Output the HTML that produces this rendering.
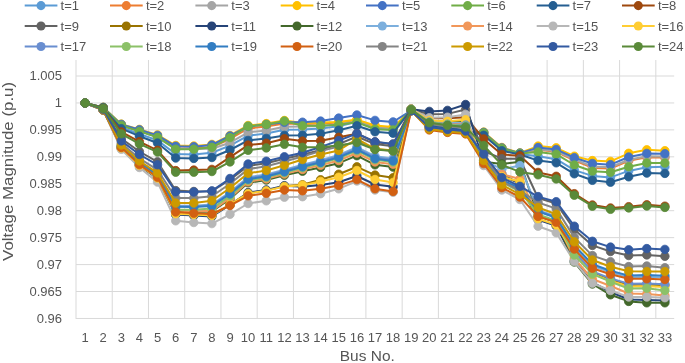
<!DOCTYPE html>
<html><head><meta charset="utf-8"><title>Voltage Magnitude</title>
<style>html,body{margin:0;padding:0;background:#fff}body{width:685px;height:363px;overflow:hidden}</style></head>
<body>
<svg width="685" height="363" viewBox="0 0 685 363" style="display:block">
<rect width="685" height="363" fill="#fff"/>
<path d="M76 76.00H674.2 M76 102.94H674.2 M76 129.88H674.2 M76 156.82H674.2 M76 183.76H674.2 M76 210.70H674.2 M76 237.64H674.2 M76 264.58H674.2 M76 291.52H674.2 M76 318.46H674.2 M76.00 60V318.96 M112.24 60V318.96 M148.48 60V318.96 M184.72 60V318.96 M220.96 60V318.96 M257.20 60V318.96 M293.44 60V318.96 M329.68 60V318.96 M365.92 60V318.96 M402.16 60V318.96 M438.40 60V318.96 M474.64 60V318.96 M510.88 60V318.96 M547.12 60V318.96 M583.36 60V318.96 M619.60 60V318.96 M655.84 60V318.96" stroke="#D9D9D9" stroke-width="1" fill="none"/>
<g font-family="'Liberation Sans',Arial,sans-serif" font-size="13" fill="#555">
<text x="62" y="79.9" text-anchor="end">1.005</text>
<text x="62" y="106.9" text-anchor="end">1</text>
<text x="62" y="133.9" text-anchor="end">0.995</text>
<text x="62" y="161.0" text-anchor="end">0.99</text>
<text x="62" y="188.0" text-anchor="end">0.985</text>
<text x="62" y="215.0" text-anchor="end">0.98</text>
<text x="62" y="242.0" text-anchor="end">0.975</text>
<text x="62" y="269.0" text-anchor="end">0.97</text>
<text x="62" y="296.0" text-anchor="end">0.965</text>
<text x="62" y="323.1" text-anchor="end">0.96</text>
<text x="85.1" y="342.0" text-anchor="middle">1</text>
<text x="103.2" y="342.0" text-anchor="middle">2</text>
<text x="121.3" y="342.0" text-anchor="middle">3</text>
<text x="139.4" y="342.0" text-anchor="middle">4</text>
<text x="157.5" y="342.0" text-anchor="middle">5</text>
<text x="175.7" y="342.0" text-anchor="middle">6</text>
<text x="193.8" y="342.0" text-anchor="middle">7</text>
<text x="211.9" y="342.0" text-anchor="middle">8</text>
<text x="230.0" y="342.0" text-anchor="middle">9</text>
<text x="248.1" y="342.0" text-anchor="middle">10</text>
<text x="266.3" y="342.0" text-anchor="middle">11</text>
<text x="284.4" y="342.0" text-anchor="middle">12</text>
<text x="302.5" y="342.0" text-anchor="middle">13</text>
<text x="320.6" y="342.0" text-anchor="middle">14</text>
<text x="338.7" y="342.0" text-anchor="middle">15</text>
<text x="356.9" y="342.0" text-anchor="middle">16</text>
<text x="375.0" y="342.0" text-anchor="middle">17</text>
<text x="393.1" y="342.0" text-anchor="middle">18</text>
<text x="411.2" y="342.0" text-anchor="middle">19</text>
<text x="429.3" y="342.0" text-anchor="middle">20</text>
<text x="447.5" y="342.0" text-anchor="middle">21</text>
<text x="465.6" y="342.0" text-anchor="middle">22</text>
<text x="483.7" y="342.0" text-anchor="middle">23</text>
<text x="501.8" y="342.0" text-anchor="middle">24</text>
<text x="519.9" y="342.0" text-anchor="middle">25</text>
<text x="538.1" y="342.0" text-anchor="middle">26</text>
<text x="556.2" y="342.0" text-anchor="middle">27</text>
<text x="574.3" y="342.0" text-anchor="middle">28</text>
<text x="592.4" y="342.0" text-anchor="middle">29</text>
<text x="610.5" y="342.0" text-anchor="middle">30</text>
<text x="628.7" y="342.0" text-anchor="middle">31</text>
<text x="646.8" y="342.0" text-anchor="middle">32</text>
<text x="664.9" y="342.0" text-anchor="middle">33</text>
<path d="M24.7 5.6h32.7" stroke="#5B9BD5" stroke-width="2"/><circle cx="41.0" cy="5.6" r="4.55" fill="#5B9BD5"/>
<text x="60.6" y="10.2">t=1</text>
<path d="M110.0 5.6h32.7" stroke="#ED7D31" stroke-width="2"/><circle cx="126.3" cy="5.6" r="4.55" fill="#ED7D31"/>
<text x="145.9" y="10.2">t=2</text>
<path d="M195.4 5.6h32.7" stroke="#A5A5A5" stroke-width="2"/><circle cx="211.7" cy="5.6" r="4.55" fill="#A5A5A5"/>
<text x="231.3" y="10.2">t=3</text>
<path d="M280.7 5.6h32.7" stroke="#FFC000" stroke-width="2"/><circle cx="297.0" cy="5.6" r="4.55" fill="#FFC000"/>
<text x="316.6" y="10.2">t=4</text>
<path d="M366.0 5.6h32.7" stroke="#4472C4" stroke-width="2"/><circle cx="382.3" cy="5.6" r="4.55" fill="#4472C4"/>
<text x="401.9" y="10.2">t=5</text>
<path d="M451.3 5.6h32.7" stroke="#70AD47" stroke-width="2"/><circle cx="467.6" cy="5.6" r="4.55" fill="#70AD47"/>
<text x="487.2" y="10.2">t=6</text>
<path d="M536.7 5.6h32.7" stroke="#255E91" stroke-width="2"/><circle cx="553.0" cy="5.6" r="4.55" fill="#255E91"/>
<text x="572.6" y="10.2">t=7</text>
<path d="M622.0 5.6h32.7" stroke="#9E480E" stroke-width="2"/><circle cx="638.3" cy="5.6" r="4.55" fill="#9E480E"/>
<text x="657.9" y="10.2">t=8</text>
<path d="M24.7 26.0h32.7" stroke="#636363" stroke-width="2"/><circle cx="41.0" cy="26.0" r="4.55" fill="#636363"/>
<text x="60.6" y="30.6">t=9</text>
<path d="M110.0 26.0h32.7" stroke="#997300" stroke-width="2"/><circle cx="126.3" cy="26.0" r="4.55" fill="#997300"/>
<text x="145.9" y="30.6">t=10</text>
<path d="M195.4 26.0h32.7" stroke="#264478" stroke-width="2"/><circle cx="211.7" cy="26.0" r="4.55" fill="#264478"/>
<text x="231.3" y="30.6">t=11</text>
<path d="M280.7 26.0h32.7" stroke="#43682B" stroke-width="2"/><circle cx="297.0" cy="26.0" r="4.55" fill="#43682B"/>
<text x="316.6" y="30.6">t=12</text>
<path d="M366.0 26.0h32.7" stroke="#7CAFDD" stroke-width="2"/><circle cx="382.3" cy="26.0" r="4.55" fill="#7CAFDD"/>
<text x="401.9" y="30.6">t=13</text>
<path d="M451.3 26.0h32.7" stroke="#F1975A" stroke-width="2"/><circle cx="467.6" cy="26.0" r="4.55" fill="#F1975A"/>
<text x="487.2" y="30.6">t=14</text>
<path d="M536.7 26.0h32.7" stroke="#B7B7B7" stroke-width="2"/><circle cx="553.0" cy="26.0" r="4.55" fill="#B7B7B7"/>
<text x="572.6" y="30.6">t=15</text>
<path d="M622.0 26.0h32.7" stroke="#FFCD33" stroke-width="2"/><circle cx="638.3" cy="26.0" r="4.55" fill="#FFCD33"/>
<text x="657.9" y="30.6">t=16</text>
<path d="M24.7 46.5h32.7" stroke="#698ED0" stroke-width="2"/><circle cx="41.0" cy="46.5" r="4.55" fill="#698ED0"/>
<text x="60.6" y="51.1">t=17</text>
<path d="M110.0 46.5h32.7" stroke="#8CC168" stroke-width="2"/><circle cx="126.3" cy="46.5" r="4.55" fill="#8CC168"/>
<text x="145.9" y="51.1">t=18</text>
<path d="M195.4 46.5h32.7" stroke="#327DC2" stroke-width="2"/><circle cx="211.7" cy="46.5" r="4.55" fill="#327DC2"/>
<text x="231.3" y="51.1">t=19</text>
<path d="M280.7 46.5h32.7" stroke="#D26012" stroke-width="2"/><circle cx="297.0" cy="46.5" r="4.55" fill="#D26012"/>
<text x="316.6" y="51.1">t=20</text>
<path d="M366.0 46.5h32.7" stroke="#848484" stroke-width="2"/><circle cx="382.3" cy="46.5" r="4.55" fill="#848484"/>
<text x="401.9" y="51.1">t=21</text>
<path d="M451.3 46.5h32.7" stroke="#CC9A00" stroke-width="2"/><circle cx="467.6" cy="46.5" r="4.55" fill="#CC9A00"/>
<text x="487.2" y="51.1">t=22</text>
<path d="M536.7 46.5h32.7" stroke="#335AA1" stroke-width="2"/><circle cx="553.0" cy="46.5" r="4.55" fill="#335AA1"/>
<text x="572.6" y="51.1">t=23</text>
<path d="M622.0 46.5h32.7" stroke="#5A8A39" stroke-width="2"/><circle cx="638.3" cy="46.5" r="4.55" fill="#5A8A39"/>
<text x="657.9" y="51.1">t=24</text>
</g>
<g font-family="'Liberation Sans',Arial,sans-serif" font-size="15.1" fill="#555">
<text x="367.3" y="361.4" text-anchor="middle" textLength="55" lengthAdjust="spacingAndGlyphs">Bus No.</text>
<text transform="translate(12.9 171.4) rotate(-90)" text-anchor="middle" textLength="179" lengthAdjust="spacingAndGlyphs">Voltage Magnitude (p.u)</text>
</g>
<g fill="#5B9BD5" stroke="#5B9BD5"><polyline points="85.1,103.0 103.2,107.7 121.3,127.2 139.4,134.0 157.5,140.4 175.7,154.0 193.8,154.4 211.9,152.7 230.0,145.6 248.1,135.6 266.3,133.4 284.4,129.8 302.5,129.5 320.6,128.5 338.7,126.2 356.9,121.8 375.0,128.2 393.1,129.2 411.2,109.6 429.3,125.5 447.5,128.5 465.6,130.5 483.7,134.3 501.8,149.5 519.9,154.0 538.1,156.2 556.2,159.2 574.3,170.1 592.4,175.9 610.5,177.4 628.7,170.9 646.8,167.3 664.9,166.8" fill="none" stroke-width="2" stroke-linejoin="round" stroke-linecap="round"/>
<circle cx="85.1" cy="103.0" r="4.25" stroke-width="0.8"/><circle cx="103.2" cy="107.7" r="4.25" stroke-width="0.8"/><circle cx="121.3" cy="127.2" r="4.25" stroke-width="0.8"/><circle cx="139.4" cy="134.0" r="4.25" stroke-width="0.8"/><circle cx="157.5" cy="140.4" r="4.25" stroke-width="0.8"/><circle cx="175.7" cy="154.0" r="4.25" stroke-width="0.8"/><circle cx="193.8" cy="154.4" r="4.25" stroke-width="0.8"/><circle cx="211.9" cy="152.7" r="4.25" stroke-width="0.8"/><circle cx="230.0" cy="145.6" r="4.25" stroke-width="0.8"/><circle cx="248.1" cy="135.6" r="4.25" stroke-width="0.8"/><circle cx="266.3" cy="133.4" r="4.25" stroke-width="0.8"/><circle cx="284.4" cy="129.8" r="4.25" stroke-width="0.8"/><circle cx="302.5" cy="129.5" r="4.25" stroke-width="0.8"/><circle cx="320.6" cy="128.5" r="4.25" stroke-width="0.8"/><circle cx="338.7" cy="126.2" r="4.25" stroke-width="0.8"/><circle cx="356.9" cy="121.8" r="4.25" stroke-width="0.8"/><circle cx="375.0" cy="128.2" r="4.25" stroke-width="0.8"/><circle cx="393.1" cy="129.2" r="4.25" stroke-width="0.8"/><circle cx="411.2" cy="109.6" r="4.25" stroke-width="0.8"/><circle cx="429.3" cy="125.5" r="4.25" stroke-width="0.8"/><circle cx="447.5" cy="128.5" r="4.25" stroke-width="0.8"/><circle cx="465.6" cy="130.5" r="4.25" stroke-width="0.8"/><circle cx="483.7" cy="134.3" r="4.25" stroke-width="0.8"/><circle cx="501.8" cy="149.5" r="4.25" stroke-width="0.8"/><circle cx="519.9" cy="154.0" r="4.25" stroke-width="0.8"/><circle cx="538.1" cy="156.2" r="4.25" stroke-width="0.8"/><circle cx="556.2" cy="159.2" r="4.25" stroke-width="0.8"/><circle cx="574.3" cy="170.1" r="4.25" stroke-width="0.8"/><circle cx="592.4" cy="175.9" r="4.25" stroke-width="0.8"/><circle cx="610.5" cy="177.4" r="4.25" stroke-width="0.8"/><circle cx="628.7" cy="170.9" r="4.25" stroke-width="0.8"/><circle cx="646.8" cy="167.3" r="4.25" stroke-width="0.8"/><circle cx="664.9" cy="166.8" r="4.25" stroke-width="0.8"/>
</g>
<g fill="#ED7D31" stroke="#ED7D31"><polyline points="85.1,103.0 103.2,107.5 121.3,125.1 139.4,130.9 157.5,136.7 175.7,148.3 193.8,148.5 211.9,147.0 230.0,139.0 248.1,128.5 266.3,126.5 284.4,123.5 302.5,124.0 320.6,123.5 338.7,122.6 356.9,120.2 375.0,126.2 393.1,127.7 411.2,109.6 429.3,127.5 447.5,130.5 465.6,132.3 483.7,132.7 501.8,148.3 519.9,153.4 538.1,149.8 556.2,151.8 574.3,160.4 592.4,167.9 610.5,168.6 628.7,160.8 646.8,157.3 664.9,157.6" fill="none" stroke-width="2" stroke-linejoin="round" stroke-linecap="round"/>
<circle cx="85.1" cy="103.0" r="4.25" stroke-width="0.8"/><circle cx="103.2" cy="107.5" r="4.25" stroke-width="0.8"/><circle cx="121.3" cy="125.1" r="4.25" stroke-width="0.8"/><circle cx="139.4" cy="130.9" r="4.25" stroke-width="0.8"/><circle cx="157.5" cy="136.7" r="4.25" stroke-width="0.8"/><circle cx="175.7" cy="148.3" r="4.25" stroke-width="0.8"/><circle cx="193.8" cy="148.5" r="4.25" stroke-width="0.8"/><circle cx="211.9" cy="147.0" r="4.25" stroke-width="0.8"/><circle cx="230.0" cy="139.0" r="4.25" stroke-width="0.8"/><circle cx="248.1" cy="128.5" r="4.25" stroke-width="0.8"/><circle cx="266.3" cy="126.5" r="4.25" stroke-width="0.8"/><circle cx="284.4" cy="123.5" r="4.25" stroke-width="0.8"/><circle cx="302.5" cy="124.0" r="4.25" stroke-width="0.8"/><circle cx="320.6" cy="123.5" r="4.25" stroke-width="0.8"/><circle cx="338.7" cy="122.6" r="4.25" stroke-width="0.8"/><circle cx="356.9" cy="120.2" r="4.25" stroke-width="0.8"/><circle cx="375.0" cy="126.2" r="4.25" stroke-width="0.8"/><circle cx="393.1" cy="127.7" r="4.25" stroke-width="0.8"/><circle cx="411.2" cy="109.6" r="4.25" stroke-width="0.8"/><circle cx="429.3" cy="127.5" r="4.25" stroke-width="0.8"/><circle cx="447.5" cy="130.5" r="4.25" stroke-width="0.8"/><circle cx="465.6" cy="132.3" r="4.25" stroke-width="0.8"/><circle cx="483.7" cy="132.7" r="4.25" stroke-width="0.8"/><circle cx="501.8" cy="148.3" r="4.25" stroke-width="0.8"/><circle cx="519.9" cy="153.4" r="4.25" stroke-width="0.8"/><circle cx="538.1" cy="149.8" r="4.25" stroke-width="0.8"/><circle cx="556.2" cy="151.8" r="4.25" stroke-width="0.8"/><circle cx="574.3" cy="160.4" r="4.25" stroke-width="0.8"/><circle cx="592.4" cy="167.9" r="4.25" stroke-width="0.8"/><circle cx="610.5" cy="168.6" r="4.25" stroke-width="0.8"/><circle cx="628.7" cy="160.8" r="4.25" stroke-width="0.8"/><circle cx="646.8" cy="157.3" r="4.25" stroke-width="0.8"/><circle cx="664.9" cy="157.6" r="4.25" stroke-width="0.8"/>
</g>
<g fill="#A5A5A5" stroke="#A5A5A5"><polyline points="85.1,103.0 103.2,107.5 121.3,125.3 139.4,131.1 157.5,136.9 175.7,148.7 193.8,149.0 211.9,148.8 230.0,142.7 248.1,132.3 266.3,130.4 284.4,126.8 302.5,126.5 320.6,126.0 338.7,124.2 356.9,121.2 375.0,127.3 393.1,128.6 411.2,109.6 429.3,127.8 447.5,130.8 465.6,132.6 483.7,132.7 501.8,148.2 519.9,153.3 538.1,149.3 556.2,151.1 574.3,159.4 592.4,166.5 610.5,167.2 628.7,159.8 646.8,156.3 664.9,156.6" fill="none" stroke-width="2" stroke-linejoin="round" stroke-linecap="round"/>
<circle cx="85.1" cy="103.0" r="4.25" stroke-width="0.8"/><circle cx="103.2" cy="107.5" r="4.25" stroke-width="0.8"/><circle cx="121.3" cy="125.3" r="4.25" stroke-width="0.8"/><circle cx="139.4" cy="131.1" r="4.25" stroke-width="0.8"/><circle cx="157.5" cy="136.9" r="4.25" stroke-width="0.8"/><circle cx="175.7" cy="148.7" r="4.25" stroke-width="0.8"/><circle cx="193.8" cy="149.0" r="4.25" stroke-width="0.8"/><circle cx="211.9" cy="148.8" r="4.25" stroke-width="0.8"/><circle cx="230.0" cy="142.7" r="4.25" stroke-width="0.8"/><circle cx="248.1" cy="132.3" r="4.25" stroke-width="0.8"/><circle cx="266.3" cy="130.4" r="4.25" stroke-width="0.8"/><circle cx="284.4" cy="126.8" r="4.25" stroke-width="0.8"/><circle cx="302.5" cy="126.5" r="4.25" stroke-width="0.8"/><circle cx="320.6" cy="126.0" r="4.25" stroke-width="0.8"/><circle cx="338.7" cy="124.2" r="4.25" stroke-width="0.8"/><circle cx="356.9" cy="121.2" r="4.25" stroke-width="0.8"/><circle cx="375.0" cy="127.3" r="4.25" stroke-width="0.8"/><circle cx="393.1" cy="128.6" r="4.25" stroke-width="0.8"/><circle cx="411.2" cy="109.6" r="4.25" stroke-width="0.8"/><circle cx="429.3" cy="127.8" r="4.25" stroke-width="0.8"/><circle cx="447.5" cy="130.8" r="4.25" stroke-width="0.8"/><circle cx="465.6" cy="132.6" r="4.25" stroke-width="0.8"/><circle cx="483.7" cy="132.7" r="4.25" stroke-width="0.8"/><circle cx="501.8" cy="148.2" r="4.25" stroke-width="0.8"/><circle cx="519.9" cy="153.3" r="4.25" stroke-width="0.8"/><circle cx="538.1" cy="149.3" r="4.25" stroke-width="0.8"/><circle cx="556.2" cy="151.1" r="4.25" stroke-width="0.8"/><circle cx="574.3" cy="159.4" r="4.25" stroke-width="0.8"/><circle cx="592.4" cy="166.5" r="4.25" stroke-width="0.8"/><circle cx="610.5" cy="167.2" r="4.25" stroke-width="0.8"/><circle cx="628.7" cy="159.8" r="4.25" stroke-width="0.8"/><circle cx="646.8" cy="156.3" r="4.25" stroke-width="0.8"/><circle cx="664.9" cy="156.6" r="4.25" stroke-width="0.8"/>
</g>
<g fill="#FFC000" stroke="#FFC000"><polyline points="85.1,103.0 103.2,107.4 121.3,124.1 139.4,129.4 157.5,134.9 175.7,145.5 193.8,146.0 211.9,144.4 230.0,135.5 248.1,125.5 266.3,123.6 284.4,120.5 302.5,123.0 320.6,122.5 338.7,121.9 356.9,119.6 375.0,125.5 393.1,127.0 411.2,110.6 429.3,127.6 447.5,130.6 465.6,132.4 483.7,132.1 501.8,147.5 519.9,152.9 538.1,146.1 556.2,147.8 574.3,156.2 592.4,160.6 610.5,161.4 628.7,153.3 646.8,149.8 664.9,150.7" fill="none" stroke-width="2" stroke-linejoin="round" stroke-linecap="round"/>
<circle cx="85.1" cy="103.0" r="4.25" stroke-width="0.8"/><circle cx="103.2" cy="107.4" r="4.25" stroke-width="0.8"/><circle cx="121.3" cy="124.1" r="4.25" stroke-width="0.8"/><circle cx="139.4" cy="129.4" r="4.25" stroke-width="0.8"/><circle cx="157.5" cy="134.9" r="4.25" stroke-width="0.8"/><circle cx="175.7" cy="145.5" r="4.25" stroke-width="0.8"/><circle cx="193.8" cy="146.0" r="4.25" stroke-width="0.8"/><circle cx="211.9" cy="144.4" r="4.25" stroke-width="0.8"/><circle cx="230.0" cy="135.5" r="4.25" stroke-width="0.8"/><circle cx="248.1" cy="125.5" r="4.25" stroke-width="0.8"/><circle cx="266.3" cy="123.6" r="4.25" stroke-width="0.8"/><circle cx="284.4" cy="120.5" r="4.25" stroke-width="0.8"/><circle cx="302.5" cy="123.0" r="4.25" stroke-width="0.8"/><circle cx="320.6" cy="122.5" r="4.25" stroke-width="0.8"/><circle cx="338.7" cy="121.9" r="4.25" stroke-width="0.8"/><circle cx="356.9" cy="119.6" r="4.25" stroke-width="0.8"/><circle cx="375.0" cy="125.5" r="4.25" stroke-width="0.8"/><circle cx="393.1" cy="127.0" r="4.25" stroke-width="0.8"/><circle cx="411.2" cy="110.6" r="4.25" stroke-width="0.8"/><circle cx="429.3" cy="127.6" r="4.25" stroke-width="0.8"/><circle cx="447.5" cy="130.6" r="4.25" stroke-width="0.8"/><circle cx="465.6" cy="132.4" r="4.25" stroke-width="0.8"/><circle cx="483.7" cy="132.1" r="4.25" stroke-width="0.8"/><circle cx="501.8" cy="147.5" r="4.25" stroke-width="0.8"/><circle cx="519.9" cy="152.9" r="4.25" stroke-width="0.8"/><circle cx="538.1" cy="146.1" r="4.25" stroke-width="0.8"/><circle cx="556.2" cy="147.8" r="4.25" stroke-width="0.8"/><circle cx="574.3" cy="156.2" r="4.25" stroke-width="0.8"/><circle cx="592.4" cy="160.6" r="4.25" stroke-width="0.8"/><circle cx="610.5" cy="161.4" r="4.25" stroke-width="0.8"/><circle cx="628.7" cy="153.3" r="4.25" stroke-width="0.8"/><circle cx="646.8" cy="149.8" r="4.25" stroke-width="0.8"/><circle cx="664.9" cy="150.7" r="4.25" stroke-width="0.8"/>
</g>
<g fill="#4472C4" stroke="#4472C4"><polyline points="85.1,103.0 103.2,107.4 121.3,124.4 139.4,129.8 157.5,135.4 175.7,146.3 193.8,146.7 211.9,145.0 230.0,136.0 248.1,126.5 266.3,124.5 284.4,122.3 302.5,122.2 320.6,121.1 338.7,118.1 356.9,115.0 375.0,120.4 393.1,121.9 411.2,110.5 429.3,127.0 447.5,130.0 465.6,131.8 483.7,132.4 501.8,147.9 519.9,153.1 538.1,147.6 556.2,149.5 574.3,157.7 592.4,163.5 610.5,164.7 628.7,157.0 646.8,153.4 664.9,153.7" fill="none" stroke-width="2" stroke-linejoin="round" stroke-linecap="round"/>
<circle cx="85.1" cy="103.0" r="4.25" stroke-width="0.8"/><circle cx="103.2" cy="107.4" r="4.25" stroke-width="0.8"/><circle cx="121.3" cy="124.4" r="4.25" stroke-width="0.8"/><circle cx="139.4" cy="129.8" r="4.25" stroke-width="0.8"/><circle cx="157.5" cy="135.4" r="4.25" stroke-width="0.8"/><circle cx="175.7" cy="146.3" r="4.25" stroke-width="0.8"/><circle cx="193.8" cy="146.7" r="4.25" stroke-width="0.8"/><circle cx="211.9" cy="145.0" r="4.25" stroke-width="0.8"/><circle cx="230.0" cy="136.0" r="4.25" stroke-width="0.8"/><circle cx="248.1" cy="126.5" r="4.25" stroke-width="0.8"/><circle cx="266.3" cy="124.5" r="4.25" stroke-width="0.8"/><circle cx="284.4" cy="122.3" r="4.25" stroke-width="0.8"/><circle cx="302.5" cy="122.2" r="4.25" stroke-width="0.8"/><circle cx="320.6" cy="121.1" r="4.25" stroke-width="0.8"/><circle cx="338.7" cy="118.1" r="4.25" stroke-width="0.8"/><circle cx="356.9" cy="115.0" r="4.25" stroke-width="0.8"/><circle cx="375.0" cy="120.4" r="4.25" stroke-width="0.8"/><circle cx="393.1" cy="121.9" r="4.25" stroke-width="0.8"/><circle cx="411.2" cy="110.5" r="4.25" stroke-width="0.8"/><circle cx="429.3" cy="127.0" r="4.25" stroke-width="0.8"/><circle cx="447.5" cy="130.0" r="4.25" stroke-width="0.8"/><circle cx="465.6" cy="131.8" r="4.25" stroke-width="0.8"/><circle cx="483.7" cy="132.4" r="4.25" stroke-width="0.8"/><circle cx="501.8" cy="147.9" r="4.25" stroke-width="0.8"/><circle cx="519.9" cy="153.1" r="4.25" stroke-width="0.8"/><circle cx="538.1" cy="147.6" r="4.25" stroke-width="0.8"/><circle cx="556.2" cy="149.5" r="4.25" stroke-width="0.8"/><circle cx="574.3" cy="157.7" r="4.25" stroke-width="0.8"/><circle cx="592.4" cy="163.5" r="4.25" stroke-width="0.8"/><circle cx="610.5" cy="164.7" r="4.25" stroke-width="0.8"/><circle cx="628.7" cy="157.0" r="4.25" stroke-width="0.8"/><circle cx="646.8" cy="153.4" r="4.25" stroke-width="0.8"/><circle cx="664.9" cy="153.7" r="4.25" stroke-width="0.8"/>
</g>
<g fill="#70AD47" stroke="#70AD47"><polyline points="85.1,103.0 103.2,107.5 121.3,125.5 139.4,131.4 157.5,137.3 175.7,149.2 193.8,149.2 211.9,147.3 230.0,137.6 248.1,126.2 266.3,124.5 284.4,121.0 302.5,125.8 320.6,125.8 338.7,124.7 356.9,122.3 375.0,129.2 393.1,129.9 411.2,109.6 429.3,126.5 447.5,129.5 465.6,131.5 483.7,133.0 501.8,148.5 519.9,153.5 538.1,152.0 556.2,154.2 574.3,165.0 592.4,171.2 610.5,172.3 628.7,166.8 646.8,162.9 664.9,163.1" fill="none" stroke-width="2" stroke-linejoin="round" stroke-linecap="round"/>
<circle cx="85.1" cy="103.0" r="4.25" stroke-width="0.8"/><circle cx="103.2" cy="107.5" r="4.25" stroke-width="0.8"/><circle cx="121.3" cy="125.5" r="4.25" stroke-width="0.8"/><circle cx="139.4" cy="131.4" r="4.25" stroke-width="0.8"/><circle cx="157.5" cy="137.3" r="4.25" stroke-width="0.8"/><circle cx="175.7" cy="149.2" r="4.25" stroke-width="0.8"/><circle cx="193.8" cy="149.2" r="4.25" stroke-width="0.8"/><circle cx="211.9" cy="147.3" r="4.25" stroke-width="0.8"/><circle cx="230.0" cy="137.6" r="4.25" stroke-width="0.8"/><circle cx="248.1" cy="126.2" r="4.25" stroke-width="0.8"/><circle cx="266.3" cy="124.5" r="4.25" stroke-width="0.8"/><circle cx="284.4" cy="121.0" r="4.25" stroke-width="0.8"/><circle cx="302.5" cy="125.8" r="4.25" stroke-width="0.8"/><circle cx="320.6" cy="125.8" r="4.25" stroke-width="0.8"/><circle cx="338.7" cy="124.7" r="4.25" stroke-width="0.8"/><circle cx="356.9" cy="122.3" r="4.25" stroke-width="0.8"/><circle cx="375.0" cy="129.2" r="4.25" stroke-width="0.8"/><circle cx="393.1" cy="129.9" r="4.25" stroke-width="0.8"/><circle cx="411.2" cy="109.6" r="4.25" stroke-width="0.8"/><circle cx="429.3" cy="126.5" r="4.25" stroke-width="0.8"/><circle cx="447.5" cy="129.5" r="4.25" stroke-width="0.8"/><circle cx="465.6" cy="131.5" r="4.25" stroke-width="0.8"/><circle cx="483.7" cy="133.0" r="4.25" stroke-width="0.8"/><circle cx="501.8" cy="148.5" r="4.25" stroke-width="0.8"/><circle cx="519.9" cy="153.5" r="4.25" stroke-width="0.8"/><circle cx="538.1" cy="152.0" r="4.25" stroke-width="0.8"/><circle cx="556.2" cy="154.2" r="4.25" stroke-width="0.8"/><circle cx="574.3" cy="165.0" r="4.25" stroke-width="0.8"/><circle cx="592.4" cy="171.2" r="4.25" stroke-width="0.8"/><circle cx="610.5" cy="172.3" r="4.25" stroke-width="0.8"/><circle cx="628.7" cy="166.8" r="4.25" stroke-width="0.8"/><circle cx="646.8" cy="162.9" r="4.25" stroke-width="0.8"/><circle cx="664.9" cy="163.1" r="4.25" stroke-width="0.8"/>
</g>
<g fill="#255E91" stroke="#255E91"><polyline points="85.1,103.0 103.2,107.8 121.3,128.7 139.4,136.2 157.5,143.0 175.7,158.0 193.8,158.4 211.9,157.5 230.0,150.0 248.1,140.4 266.3,138.4 284.4,135.4 302.5,135.3 320.6,133.7 338.7,130.2 356.9,125.8 375.0,131.8 393.1,133.2 411.2,109.6 429.3,125.0 447.5,128.0 465.6,130.0 483.7,135.3 501.8,150.7 519.9,154.5 538.1,160.6 556.2,162.8 574.3,173.8 592.4,180.3 610.5,182.2 628.7,176.8 646.8,173.1 664.9,173.4" fill="none" stroke-width="2" stroke-linejoin="round" stroke-linecap="round"/>
<circle cx="85.1" cy="103.0" r="4.25" stroke-width="0.8"/><circle cx="103.2" cy="107.8" r="4.25" stroke-width="0.8"/><circle cx="121.3" cy="128.7" r="4.25" stroke-width="0.8"/><circle cx="139.4" cy="136.2" r="4.25" stroke-width="0.8"/><circle cx="157.5" cy="143.0" r="4.25" stroke-width="0.8"/><circle cx="175.7" cy="158.0" r="4.25" stroke-width="0.8"/><circle cx="193.8" cy="158.4" r="4.25" stroke-width="0.8"/><circle cx="211.9" cy="157.5" r="4.25" stroke-width="0.8"/><circle cx="230.0" cy="150.0" r="4.25" stroke-width="0.8"/><circle cx="248.1" cy="140.4" r="4.25" stroke-width="0.8"/><circle cx="266.3" cy="138.4" r="4.25" stroke-width="0.8"/><circle cx="284.4" cy="135.4" r="4.25" stroke-width="0.8"/><circle cx="302.5" cy="135.3" r="4.25" stroke-width="0.8"/><circle cx="320.6" cy="133.7" r="4.25" stroke-width="0.8"/><circle cx="338.7" cy="130.2" r="4.25" stroke-width="0.8"/><circle cx="356.9" cy="125.8" r="4.25" stroke-width="0.8"/><circle cx="375.0" cy="131.8" r="4.25" stroke-width="0.8"/><circle cx="393.1" cy="133.2" r="4.25" stroke-width="0.8"/><circle cx="411.2" cy="109.6" r="4.25" stroke-width="0.8"/><circle cx="429.3" cy="125.0" r="4.25" stroke-width="0.8"/><circle cx="447.5" cy="128.0" r="4.25" stroke-width="0.8"/><circle cx="465.6" cy="130.0" r="4.25" stroke-width="0.8"/><circle cx="483.7" cy="135.3" r="4.25" stroke-width="0.8"/><circle cx="501.8" cy="150.7" r="4.25" stroke-width="0.8"/><circle cx="519.9" cy="154.5" r="4.25" stroke-width="0.8"/><circle cx="538.1" cy="160.6" r="4.25" stroke-width="0.8"/><circle cx="556.2" cy="162.8" r="4.25" stroke-width="0.8"/><circle cx="574.3" cy="173.8" r="4.25" stroke-width="0.8"/><circle cx="592.4" cy="180.3" r="4.25" stroke-width="0.8"/><circle cx="610.5" cy="182.2" r="4.25" stroke-width="0.8"/><circle cx="628.7" cy="176.8" r="4.25" stroke-width="0.8"/><circle cx="646.8" cy="173.1" r="4.25" stroke-width="0.8"/><circle cx="664.9" cy="173.4" r="4.25" stroke-width="0.8"/>
</g>
<g fill="#9E480E" stroke="#9E480E"><polyline points="85.1,103.0 103.2,108.3 121.3,131.9 139.4,141.7 157.5,150.3 175.7,170.6 193.8,170.1 211.9,169.4 230.0,157.1 248.1,145.1 266.3,143.2 284.4,138.7 302.5,141.1 320.6,140.7 338.7,137.3 356.9,133.7 375.0,142.0 393.1,144.2 411.2,109.2 429.3,118.2 447.5,118.3 465.6,117.2 483.7,138.9 501.8,154.4 519.9,155.8 538.1,172.4 556.2,176.3 574.3,193.7 592.4,205.0 610.5,208.0 628.7,206.7 646.8,204.8 664.9,206.2" fill="none" stroke-width="2" stroke-linejoin="round" stroke-linecap="round"/>
<circle cx="85.1" cy="103.0" r="4.25" stroke-width="0.8"/><circle cx="103.2" cy="108.3" r="4.25" stroke-width="0.8"/><circle cx="121.3" cy="131.9" r="4.25" stroke-width="0.8"/><circle cx="139.4" cy="141.7" r="4.25" stroke-width="0.8"/><circle cx="157.5" cy="150.3" r="4.25" stroke-width="0.8"/><circle cx="175.7" cy="170.6" r="4.25" stroke-width="0.8"/><circle cx="193.8" cy="170.1" r="4.25" stroke-width="0.8"/><circle cx="211.9" cy="169.4" r="4.25" stroke-width="0.8"/><circle cx="230.0" cy="157.1" r="4.25" stroke-width="0.8"/><circle cx="248.1" cy="145.1" r="4.25" stroke-width="0.8"/><circle cx="266.3" cy="143.2" r="4.25" stroke-width="0.8"/><circle cx="284.4" cy="138.7" r="4.25" stroke-width="0.8"/><circle cx="302.5" cy="141.1" r="4.25" stroke-width="0.8"/><circle cx="320.6" cy="140.7" r="4.25" stroke-width="0.8"/><circle cx="338.7" cy="137.3" r="4.25" stroke-width="0.8"/><circle cx="356.9" cy="133.7" r="4.25" stroke-width="0.8"/><circle cx="375.0" cy="142.0" r="4.25" stroke-width="0.8"/><circle cx="393.1" cy="144.2" r="4.25" stroke-width="0.8"/><circle cx="411.2" cy="109.2" r="4.25" stroke-width="0.8"/><circle cx="429.3" cy="118.2" r="4.25" stroke-width="0.8"/><circle cx="447.5" cy="118.3" r="4.25" stroke-width="0.8"/><circle cx="465.6" cy="117.2" r="4.25" stroke-width="0.8"/><circle cx="483.7" cy="138.9" r="4.25" stroke-width="0.8"/><circle cx="501.8" cy="154.4" r="4.25" stroke-width="0.8"/><circle cx="519.9" cy="155.8" r="4.25" stroke-width="0.8"/><circle cx="538.1" cy="172.4" r="4.25" stroke-width="0.8"/><circle cx="556.2" cy="176.3" r="4.25" stroke-width="0.8"/><circle cx="574.3" cy="193.7" r="4.25" stroke-width="0.8"/><circle cx="592.4" cy="205.0" r="4.25" stroke-width="0.8"/><circle cx="610.5" cy="208.0" r="4.25" stroke-width="0.8"/><circle cx="628.7" cy="206.7" r="4.25" stroke-width="0.8"/><circle cx="646.8" cy="204.8" r="4.25" stroke-width="0.8"/><circle cx="664.9" cy="206.2" r="4.25" stroke-width="0.8"/>
</g>
<g fill="#636363" stroke="#636363"><polyline points="85.1,103.0 103.2,109.1 121.3,138.5 139.4,151.5 157.5,161.8 175.7,190.6 193.8,191.5 211.9,191.2 230.0,179.7 248.1,166.0 266.3,163.2 284.4,158.8 302.5,154.8 320.6,150.0 338.7,144.1 356.9,136.5 375.0,144.1 393.1,146.2 411.2,109.2 429.3,114.3 447.5,113.9 465.6,109.5 483.7,151.0 501.8,158.7 519.9,158.8 538.1,198.0 556.2,203.5 574.3,229.5 592.4,245.4 610.5,251.5 628.7,255.5 646.8,254.9 664.9,256.3" fill="none" stroke-width="2" stroke-linejoin="round" stroke-linecap="round"/>
<circle cx="85.1" cy="103.0" r="4.25" stroke-width="0.8"/><circle cx="103.2" cy="109.1" r="4.25" stroke-width="0.8"/><circle cx="121.3" cy="138.5" r="4.25" stroke-width="0.8"/><circle cx="139.4" cy="151.5" r="4.25" stroke-width="0.8"/><circle cx="157.5" cy="161.8" r="4.25" stroke-width="0.8"/><circle cx="175.7" cy="190.6" r="4.25" stroke-width="0.8"/><circle cx="193.8" cy="191.5" r="4.25" stroke-width="0.8"/><circle cx="211.9" cy="191.2" r="4.25" stroke-width="0.8"/><circle cx="230.0" cy="179.7" r="4.25" stroke-width="0.8"/><circle cx="248.1" cy="166.0" r="4.25" stroke-width="0.8"/><circle cx="266.3" cy="163.2" r="4.25" stroke-width="0.8"/><circle cx="284.4" cy="158.8" r="4.25" stroke-width="0.8"/><circle cx="302.5" cy="154.8" r="4.25" stroke-width="0.8"/><circle cx="320.6" cy="150.0" r="4.25" stroke-width="0.8"/><circle cx="338.7" cy="144.1" r="4.25" stroke-width="0.8"/><circle cx="356.9" cy="136.5" r="4.25" stroke-width="0.8"/><circle cx="375.0" cy="144.1" r="4.25" stroke-width="0.8"/><circle cx="393.1" cy="146.2" r="4.25" stroke-width="0.8"/><circle cx="411.2" cy="109.2" r="4.25" stroke-width="0.8"/><circle cx="429.3" cy="114.3" r="4.25" stroke-width="0.8"/><circle cx="447.5" cy="113.9" r="4.25" stroke-width="0.8"/><circle cx="465.6" cy="109.5" r="4.25" stroke-width="0.8"/><circle cx="483.7" cy="151.0" r="4.25" stroke-width="0.8"/><circle cx="501.8" cy="158.7" r="4.25" stroke-width="0.8"/><circle cx="519.9" cy="158.8" r="4.25" stroke-width="0.8"/><circle cx="538.1" cy="198.0" r="4.25" stroke-width="0.8"/><circle cx="556.2" cy="203.5" r="4.25" stroke-width="0.8"/><circle cx="574.3" cy="229.5" r="4.25" stroke-width="0.8"/><circle cx="592.4" cy="245.4" r="4.25" stroke-width="0.8"/><circle cx="610.5" cy="251.5" r="4.25" stroke-width="0.8"/><circle cx="628.7" cy="255.5" r="4.25" stroke-width="0.8"/><circle cx="646.8" cy="254.9" r="4.25" stroke-width="0.8"/><circle cx="664.9" cy="256.3" r="4.25" stroke-width="0.8"/>
</g>
<g fill="#997300" stroke="#997300"><polyline points="85.1,103.0 103.2,109.9 121.3,148.0 139.4,165.4 157.5,178.2 175.7,214.1 193.8,214.9 211.9,215.5 230.0,204.5 248.1,193.2 266.3,190.5 284.4,186.1 302.5,184.8 320.6,179.8 338.7,174.2 356.9,166.8 375.0,175.1 393.1,177.7 411.2,109.6 429.3,120.8 447.5,122.0 465.6,121.0 483.7,162.4 501.8,176.0 519.9,183.0 538.1,219.1 556.2,225.3 574.3,252.4 592.4,272.4 610.5,279.4 628.7,284.9 646.8,284.6 664.9,285.3" fill="none" stroke-width="2" stroke-linejoin="round" stroke-linecap="round"/>
<circle cx="85.1" cy="103.0" r="4.25" stroke-width="0.8"/><circle cx="103.2" cy="109.9" r="4.25" stroke-width="0.8"/><circle cx="121.3" cy="148.0" r="4.25" stroke-width="0.8"/><circle cx="139.4" cy="165.4" r="4.25" stroke-width="0.8"/><circle cx="157.5" cy="178.2" r="4.25" stroke-width="0.8"/><circle cx="175.7" cy="214.1" r="4.25" stroke-width="0.8"/><circle cx="193.8" cy="214.9" r="4.25" stroke-width="0.8"/><circle cx="211.9" cy="215.5" r="4.25" stroke-width="0.8"/><circle cx="230.0" cy="204.5" r="4.25" stroke-width="0.8"/><circle cx="248.1" cy="193.2" r="4.25" stroke-width="0.8"/><circle cx="266.3" cy="190.5" r="4.25" stroke-width="0.8"/><circle cx="284.4" cy="186.1" r="4.25" stroke-width="0.8"/><circle cx="302.5" cy="184.8" r="4.25" stroke-width="0.8"/><circle cx="320.6" cy="179.8" r="4.25" stroke-width="0.8"/><circle cx="338.7" cy="174.2" r="4.25" stroke-width="0.8"/><circle cx="356.9" cy="166.8" r="4.25" stroke-width="0.8"/><circle cx="375.0" cy="175.1" r="4.25" stroke-width="0.8"/><circle cx="393.1" cy="177.7" r="4.25" stroke-width="0.8"/><circle cx="411.2" cy="109.6" r="4.25" stroke-width="0.8"/><circle cx="429.3" cy="120.8" r="4.25" stroke-width="0.8"/><circle cx="447.5" cy="122.0" r="4.25" stroke-width="0.8"/><circle cx="465.6" cy="121.0" r="4.25" stroke-width="0.8"/><circle cx="483.7" cy="162.4" r="4.25" stroke-width="0.8"/><circle cx="501.8" cy="176.0" r="4.25" stroke-width="0.8"/><circle cx="519.9" cy="183.0" r="4.25" stroke-width="0.8"/><circle cx="538.1" cy="219.1" r="4.25" stroke-width="0.8"/><circle cx="556.2" cy="225.3" r="4.25" stroke-width="0.8"/><circle cx="574.3" cy="252.4" r="4.25" stroke-width="0.8"/><circle cx="592.4" cy="272.4" r="4.25" stroke-width="0.8"/><circle cx="610.5" cy="279.4" r="4.25" stroke-width="0.8"/><circle cx="628.7" cy="284.9" r="4.25" stroke-width="0.8"/><circle cx="646.8" cy="284.6" r="4.25" stroke-width="0.8"/><circle cx="664.9" cy="285.3" r="4.25" stroke-width="0.8"/>
</g>
<g fill="#264478" stroke="#264478"><polyline points="85.1,103.0 103.2,110.0 121.3,148.1 139.4,165.6 157.5,178.4 175.7,214.6 193.8,215.6 211.9,216.5 230.0,205.0 248.1,192.6 266.3,189.9 284.4,185.7 302.5,186.8 320.6,184.9 338.7,182.2 356.9,176.0 375.0,184.5 393.1,186.8 411.2,109.2 429.3,111.4 447.5,110.4 465.6,104.5 483.7,162.6 501.8,174.0 519.9,184.0 538.1,219.7 556.2,225.9 574.3,261.0 592.4,282.5 610.5,292.0 628.7,299.5 646.8,300.0 664.9,300.6" fill="none" stroke-width="2" stroke-linejoin="round" stroke-linecap="round"/>
<circle cx="85.1" cy="103.0" r="4.25" stroke-width="0.8"/><circle cx="103.2" cy="110.0" r="4.25" stroke-width="0.8"/><circle cx="121.3" cy="148.1" r="4.25" stroke-width="0.8"/><circle cx="139.4" cy="165.6" r="4.25" stroke-width="0.8"/><circle cx="157.5" cy="178.4" r="4.25" stroke-width="0.8"/><circle cx="175.7" cy="214.6" r="4.25" stroke-width="0.8"/><circle cx="193.8" cy="215.6" r="4.25" stroke-width="0.8"/><circle cx="211.9" cy="216.5" r="4.25" stroke-width="0.8"/><circle cx="230.0" cy="205.0" r="4.25" stroke-width="0.8"/><circle cx="248.1" cy="192.6" r="4.25" stroke-width="0.8"/><circle cx="266.3" cy="189.9" r="4.25" stroke-width="0.8"/><circle cx="284.4" cy="185.7" r="4.25" stroke-width="0.8"/><circle cx="302.5" cy="186.8" r="4.25" stroke-width="0.8"/><circle cx="320.6" cy="184.9" r="4.25" stroke-width="0.8"/><circle cx="338.7" cy="182.2" r="4.25" stroke-width="0.8"/><circle cx="356.9" cy="176.0" r="4.25" stroke-width="0.8"/><circle cx="375.0" cy="184.5" r="4.25" stroke-width="0.8"/><circle cx="393.1" cy="186.8" r="4.25" stroke-width="0.8"/><circle cx="411.2" cy="109.2" r="4.25" stroke-width="0.8"/><circle cx="429.3" cy="111.4" r="4.25" stroke-width="0.8"/><circle cx="447.5" cy="110.4" r="4.25" stroke-width="0.8"/><circle cx="465.6" cy="104.5" r="4.25" stroke-width="0.8"/><circle cx="483.7" cy="162.6" r="4.25" stroke-width="0.8"/><circle cx="501.8" cy="174.0" r="4.25" stroke-width="0.8"/><circle cx="519.9" cy="184.0" r="4.25" stroke-width="0.8"/><circle cx="538.1" cy="219.7" r="4.25" stroke-width="0.8"/><circle cx="556.2" cy="225.9" r="4.25" stroke-width="0.8"/><circle cx="574.3" cy="261.0" r="4.25" stroke-width="0.8"/><circle cx="592.4" cy="282.5" r="4.25" stroke-width="0.8"/><circle cx="610.5" cy="292.0" r="4.25" stroke-width="0.8"/><circle cx="628.7" cy="299.5" r="4.25" stroke-width="0.8"/><circle cx="646.8" cy="300.0" r="4.25" stroke-width="0.8"/><circle cx="664.9" cy="300.6" r="4.25" stroke-width="0.8"/>
</g>
<g fill="#43682B" stroke="#43682B"><polyline points="85.1,103.0 103.2,109.8 121.3,147.2 139.4,164.2 157.5,176.8 175.7,211.1 193.8,212.0 211.9,211.4 230.0,198.9 248.1,182.8 266.3,180.0 284.4,175.2 302.5,171.2 320.6,167.4 338.7,163.2 356.9,155.7 375.0,164.8 393.1,167.1 411.2,109.6 429.3,121.2 447.5,122.5 465.6,122.0 483.7,161.8 501.8,163.9 519.9,161.7 538.1,216.0 556.2,222.2 574.3,262.0 592.4,284.0 610.5,294.8 628.7,301.4 646.8,302.8 664.9,302.8" fill="none" stroke-width="2" stroke-linejoin="round" stroke-linecap="round"/>
<circle cx="85.1" cy="103.0" r="4.25" stroke-width="0.8"/><circle cx="103.2" cy="109.8" r="4.25" stroke-width="0.8"/><circle cx="121.3" cy="147.2" r="4.25" stroke-width="0.8"/><circle cx="139.4" cy="164.2" r="4.25" stroke-width="0.8"/><circle cx="157.5" cy="176.8" r="4.25" stroke-width="0.8"/><circle cx="175.7" cy="211.1" r="4.25" stroke-width="0.8"/><circle cx="193.8" cy="212.0" r="4.25" stroke-width="0.8"/><circle cx="211.9" cy="211.4" r="4.25" stroke-width="0.8"/><circle cx="230.0" cy="198.9" r="4.25" stroke-width="0.8"/><circle cx="248.1" cy="182.8" r="4.25" stroke-width="0.8"/><circle cx="266.3" cy="180.0" r="4.25" stroke-width="0.8"/><circle cx="284.4" cy="175.2" r="4.25" stroke-width="0.8"/><circle cx="302.5" cy="171.2" r="4.25" stroke-width="0.8"/><circle cx="320.6" cy="167.4" r="4.25" stroke-width="0.8"/><circle cx="338.7" cy="163.2" r="4.25" stroke-width="0.8"/><circle cx="356.9" cy="155.7" r="4.25" stroke-width="0.8"/><circle cx="375.0" cy="164.8" r="4.25" stroke-width="0.8"/><circle cx="393.1" cy="167.1" r="4.25" stroke-width="0.8"/><circle cx="411.2" cy="109.6" r="4.25" stroke-width="0.8"/><circle cx="429.3" cy="121.2" r="4.25" stroke-width="0.8"/><circle cx="447.5" cy="122.5" r="4.25" stroke-width="0.8"/><circle cx="465.6" cy="122.0" r="4.25" stroke-width="0.8"/><circle cx="483.7" cy="161.8" r="4.25" stroke-width="0.8"/><circle cx="501.8" cy="163.9" r="4.25" stroke-width="0.8"/><circle cx="519.9" cy="161.7" r="4.25" stroke-width="0.8"/><circle cx="538.1" cy="216.0" r="4.25" stroke-width="0.8"/><circle cx="556.2" cy="222.2" r="4.25" stroke-width="0.8"/><circle cx="574.3" cy="262.0" r="4.25" stroke-width="0.8"/><circle cx="592.4" cy="284.0" r="4.25" stroke-width="0.8"/><circle cx="610.5" cy="294.8" r="4.25" stroke-width="0.8"/><circle cx="628.7" cy="301.4" r="4.25" stroke-width="0.8"/><circle cx="646.8" cy="302.8" r="4.25" stroke-width="0.8"/><circle cx="664.9" cy="302.8" r="4.25" stroke-width="0.8"/>
</g>
<g fill="#7CAFDD" stroke="#7CAFDD"><polyline points="85.1,103.0 103.2,109.7 121.3,146.2 139.4,162.8 157.5,175.0 175.7,205.6 193.8,205.8 211.9,204.5 230.0,192.1 248.1,177.2 266.3,174.5 284.4,169.8 302.5,164.8 320.6,160.2 338.7,154.9 356.9,147.1 375.0,156.2 393.1,158.4 411.2,109.6 429.3,121.5 447.5,123.0 465.6,123.0 483.7,160.3 501.8,169.2 519.9,165.6 538.1,210.2 556.2,216.4 574.3,246.7 592.4,265.7 610.5,272.3 628.7,277.3 646.8,276.8 664.9,277.5" fill="none" stroke-width="2" stroke-linejoin="round" stroke-linecap="round"/>
<circle cx="85.1" cy="103.0" r="4.25" stroke-width="0.8"/><circle cx="103.2" cy="109.7" r="4.25" stroke-width="0.8"/><circle cx="121.3" cy="146.2" r="4.25" stroke-width="0.8"/><circle cx="139.4" cy="162.8" r="4.25" stroke-width="0.8"/><circle cx="157.5" cy="175.0" r="4.25" stroke-width="0.8"/><circle cx="175.7" cy="205.6" r="4.25" stroke-width="0.8"/><circle cx="193.8" cy="205.8" r="4.25" stroke-width="0.8"/><circle cx="211.9" cy="204.5" r="4.25" stroke-width="0.8"/><circle cx="230.0" cy="192.1" r="4.25" stroke-width="0.8"/><circle cx="248.1" cy="177.2" r="4.25" stroke-width="0.8"/><circle cx="266.3" cy="174.5" r="4.25" stroke-width="0.8"/><circle cx="284.4" cy="169.8" r="4.25" stroke-width="0.8"/><circle cx="302.5" cy="164.8" r="4.25" stroke-width="0.8"/><circle cx="320.6" cy="160.2" r="4.25" stroke-width="0.8"/><circle cx="338.7" cy="154.9" r="4.25" stroke-width="0.8"/><circle cx="356.9" cy="147.1" r="4.25" stroke-width="0.8"/><circle cx="375.0" cy="156.2" r="4.25" stroke-width="0.8"/><circle cx="393.1" cy="158.4" r="4.25" stroke-width="0.8"/><circle cx="411.2" cy="109.6" r="4.25" stroke-width="0.8"/><circle cx="429.3" cy="121.5" r="4.25" stroke-width="0.8"/><circle cx="447.5" cy="123.0" r="4.25" stroke-width="0.8"/><circle cx="465.6" cy="123.0" r="4.25" stroke-width="0.8"/><circle cx="483.7" cy="160.3" r="4.25" stroke-width="0.8"/><circle cx="501.8" cy="169.2" r="4.25" stroke-width="0.8"/><circle cx="519.9" cy="165.6" r="4.25" stroke-width="0.8"/><circle cx="538.1" cy="210.2" r="4.25" stroke-width="0.8"/><circle cx="556.2" cy="216.4" r="4.25" stroke-width="0.8"/><circle cx="574.3" cy="246.7" r="4.25" stroke-width="0.8"/><circle cx="592.4" cy="265.7" r="4.25" stroke-width="0.8"/><circle cx="610.5" cy="272.3" r="4.25" stroke-width="0.8"/><circle cx="628.7" cy="277.3" r="4.25" stroke-width="0.8"/><circle cx="646.8" cy="276.8" r="4.25" stroke-width="0.8"/><circle cx="664.9" cy="277.5" r="4.25" stroke-width="0.8"/>
</g>
<g fill="#F1975A" stroke="#F1975A"><polyline points="85.1,103.0 103.2,109.8 121.3,147.0 139.4,164.0 157.5,176.5 175.7,210.5 193.8,211.5 211.9,210.8 230.0,197.9 248.1,181.8 266.3,178.9 284.4,174.1 302.5,169.4 320.6,165.2 338.7,160.5 356.9,153.0 375.0,161.9 393.1,164.2 411.2,109.6 429.3,121.8 447.5,123.8 465.6,124.0 483.7,160.9 501.8,174.2 519.9,179.0 538.1,215.3 556.2,221.5 574.3,258.5 592.4,279.0 610.5,286.0 628.7,293.5 646.8,294.0 664.9,295.5" fill="none" stroke-width="2" stroke-linejoin="round" stroke-linecap="round"/>
<circle cx="85.1" cy="103.0" r="4.25" stroke-width="0.8"/><circle cx="103.2" cy="109.8" r="4.25" stroke-width="0.8"/><circle cx="121.3" cy="147.0" r="4.25" stroke-width="0.8"/><circle cx="139.4" cy="164.0" r="4.25" stroke-width="0.8"/><circle cx="157.5" cy="176.5" r="4.25" stroke-width="0.8"/><circle cx="175.7" cy="210.5" r="4.25" stroke-width="0.8"/><circle cx="193.8" cy="211.5" r="4.25" stroke-width="0.8"/><circle cx="211.9" cy="210.8" r="4.25" stroke-width="0.8"/><circle cx="230.0" cy="197.9" r="4.25" stroke-width="0.8"/><circle cx="248.1" cy="181.8" r="4.25" stroke-width="0.8"/><circle cx="266.3" cy="178.9" r="4.25" stroke-width="0.8"/><circle cx="284.4" cy="174.1" r="4.25" stroke-width="0.8"/><circle cx="302.5" cy="169.4" r="4.25" stroke-width="0.8"/><circle cx="320.6" cy="165.2" r="4.25" stroke-width="0.8"/><circle cx="338.7" cy="160.5" r="4.25" stroke-width="0.8"/><circle cx="356.9" cy="153.0" r="4.25" stroke-width="0.8"/><circle cx="375.0" cy="161.9" r="4.25" stroke-width="0.8"/><circle cx="393.1" cy="164.2" r="4.25" stroke-width="0.8"/><circle cx="411.2" cy="109.6" r="4.25" stroke-width="0.8"/><circle cx="429.3" cy="121.8" r="4.25" stroke-width="0.8"/><circle cx="447.5" cy="123.8" r="4.25" stroke-width="0.8"/><circle cx="465.6" cy="124.0" r="4.25" stroke-width="0.8"/><circle cx="483.7" cy="160.9" r="4.25" stroke-width="0.8"/><circle cx="501.8" cy="174.2" r="4.25" stroke-width="0.8"/><circle cx="519.9" cy="179.0" r="4.25" stroke-width="0.8"/><circle cx="538.1" cy="215.3" r="4.25" stroke-width="0.8"/><circle cx="556.2" cy="221.5" r="4.25" stroke-width="0.8"/><circle cx="574.3" cy="258.5" r="4.25" stroke-width="0.8"/><circle cx="592.4" cy="279.0" r="4.25" stroke-width="0.8"/><circle cx="610.5" cy="286.0" r="4.25" stroke-width="0.8"/><circle cx="628.7" cy="293.5" r="4.25" stroke-width="0.8"/><circle cx="646.8" cy="294.0" r="4.25" stroke-width="0.8"/><circle cx="664.9" cy="295.5" r="4.25" stroke-width="0.8"/>
</g>
<g fill="#B7B7B7" stroke="#B7B7B7"><polyline points="85.1,103.0 103.2,110.2 121.3,149.3 139.4,167.5 157.5,182.1 175.7,220.8 193.8,222.5 211.9,223.6 230.0,214.3 248.1,203.5 266.3,200.8 284.4,197.2 302.5,196.7 320.6,193.7 338.7,188.8 356.9,181.0 375.0,190.0 393.1,192.3 411.2,109.2 429.3,117.8 447.5,117.2 465.6,114.4 483.7,165.5 501.8,190.0 519.9,199.5 538.1,226.2 556.2,232.7 574.3,261.5 592.4,283.2 610.5,290.5 628.7,297.0 646.8,297.0 664.9,297.7" fill="none" stroke-width="2" stroke-linejoin="round" stroke-linecap="round"/>
<circle cx="85.1" cy="103.0" r="4.25" stroke-width="0.8"/><circle cx="103.2" cy="110.2" r="4.25" stroke-width="0.8"/><circle cx="121.3" cy="149.3" r="4.25" stroke-width="0.8"/><circle cx="139.4" cy="167.5" r="4.25" stroke-width="0.8"/><circle cx="157.5" cy="182.1" r="4.25" stroke-width="0.8"/><circle cx="175.7" cy="220.8" r="4.25" stroke-width="0.8"/><circle cx="193.8" cy="222.5" r="4.25" stroke-width="0.8"/><circle cx="211.9" cy="223.6" r="4.25" stroke-width="0.8"/><circle cx="230.0" cy="214.3" r="4.25" stroke-width="0.8"/><circle cx="248.1" cy="203.5" r="4.25" stroke-width="0.8"/><circle cx="266.3" cy="200.8" r="4.25" stroke-width="0.8"/><circle cx="284.4" cy="197.2" r="4.25" stroke-width="0.8"/><circle cx="302.5" cy="196.7" r="4.25" stroke-width="0.8"/><circle cx="320.6" cy="193.7" r="4.25" stroke-width="0.8"/><circle cx="338.7" cy="188.8" r="4.25" stroke-width="0.8"/><circle cx="356.9" cy="181.0" r="4.25" stroke-width="0.8"/><circle cx="375.0" cy="190.0" r="4.25" stroke-width="0.8"/><circle cx="393.1" cy="192.3" r="4.25" stroke-width="0.8"/><circle cx="411.2" cy="109.2" r="4.25" stroke-width="0.8"/><circle cx="429.3" cy="117.8" r="4.25" stroke-width="0.8"/><circle cx="447.5" cy="117.2" r="4.25" stroke-width="0.8"/><circle cx="465.6" cy="114.4" r="4.25" stroke-width="0.8"/><circle cx="483.7" cy="165.5" r="4.25" stroke-width="0.8"/><circle cx="501.8" cy="190.0" r="4.25" stroke-width="0.8"/><circle cx="519.9" cy="199.5" r="4.25" stroke-width="0.8"/><circle cx="538.1" cy="226.2" r="4.25" stroke-width="0.8"/><circle cx="556.2" cy="232.7" r="4.25" stroke-width="0.8"/><circle cx="574.3" cy="261.5" r="4.25" stroke-width="0.8"/><circle cx="592.4" cy="283.2" r="4.25" stroke-width="0.8"/><circle cx="610.5" cy="290.5" r="4.25" stroke-width="0.8"/><circle cx="628.7" cy="297.0" r="4.25" stroke-width="0.8"/><circle cx="646.8" cy="297.0" r="4.25" stroke-width="0.8"/><circle cx="664.9" cy="297.7" r="4.25" stroke-width="0.8"/>
</g>
<g fill="#FFCD33" stroke="#FFCD33"><polyline points="85.1,103.0 103.2,109.9 121.3,147.9 139.4,165.3 157.5,178.0 175.7,213.7 193.8,214.6 211.9,215.5 230.0,204.5 248.1,193.4 266.3,190.8 284.4,186.5 302.5,185.3 320.6,181.4 338.7,177.2 356.9,170.5 375.0,179.5 393.1,182.4 411.2,109.2 429.3,120.4 447.5,121.3 465.6,119.7 483.7,162.2 501.8,176.5 519.9,181.9 538.1,218.7 556.2,224.9 574.3,253.7 592.4,273.9 610.5,280.9 628.7,286.5 646.8,286.3 664.9,287.0" fill="none" stroke-width="2" stroke-linejoin="round" stroke-linecap="round"/>
<circle cx="85.1" cy="103.0" r="4.25" stroke-width="0.8"/><circle cx="103.2" cy="109.9" r="4.25" stroke-width="0.8"/><circle cx="121.3" cy="147.9" r="4.25" stroke-width="0.8"/><circle cx="139.4" cy="165.3" r="4.25" stroke-width="0.8"/><circle cx="157.5" cy="178.0" r="4.25" stroke-width="0.8"/><circle cx="175.7" cy="213.7" r="4.25" stroke-width="0.8"/><circle cx="193.8" cy="214.6" r="4.25" stroke-width="0.8"/><circle cx="211.9" cy="215.5" r="4.25" stroke-width="0.8"/><circle cx="230.0" cy="204.5" r="4.25" stroke-width="0.8"/><circle cx="248.1" cy="193.4" r="4.25" stroke-width="0.8"/><circle cx="266.3" cy="190.8" r="4.25" stroke-width="0.8"/><circle cx="284.4" cy="186.5" r="4.25" stroke-width="0.8"/><circle cx="302.5" cy="185.3" r="4.25" stroke-width="0.8"/><circle cx="320.6" cy="181.4" r="4.25" stroke-width="0.8"/><circle cx="338.7" cy="177.2" r="4.25" stroke-width="0.8"/><circle cx="356.9" cy="170.5" r="4.25" stroke-width="0.8"/><circle cx="375.0" cy="179.5" r="4.25" stroke-width="0.8"/><circle cx="393.1" cy="182.4" r="4.25" stroke-width="0.8"/><circle cx="411.2" cy="109.2" r="4.25" stroke-width="0.8"/><circle cx="429.3" cy="120.4" r="4.25" stroke-width="0.8"/><circle cx="447.5" cy="121.3" r="4.25" stroke-width="0.8"/><circle cx="465.6" cy="119.7" r="4.25" stroke-width="0.8"/><circle cx="483.7" cy="162.2" r="4.25" stroke-width="0.8"/><circle cx="501.8" cy="176.5" r="4.25" stroke-width="0.8"/><circle cx="519.9" cy="181.9" r="4.25" stroke-width="0.8"/><circle cx="538.1" cy="218.7" r="4.25" stroke-width="0.8"/><circle cx="556.2" cy="224.9" r="4.25" stroke-width="0.8"/><circle cx="574.3" cy="253.7" r="4.25" stroke-width="0.8"/><circle cx="592.4" cy="273.9" r="4.25" stroke-width="0.8"/><circle cx="610.5" cy="280.9" r="4.25" stroke-width="0.8"/><circle cx="628.7" cy="286.5" r="4.25" stroke-width="0.8"/><circle cx="646.8" cy="286.3" r="4.25" stroke-width="0.8"/><circle cx="664.9" cy="287.0" r="4.25" stroke-width="0.8"/>
</g>
<g fill="#698ED0" stroke="#698ED0"><polyline points="85.1,103.0 103.2,109.7 121.3,146.4 139.4,163.0 157.5,175.3 175.7,206.3 193.8,206.5 211.9,205.3 230.0,193.0 248.1,178.2 266.3,175.5 284.4,170.8 302.5,165.8 320.6,161.3 338.7,156.2 356.9,148.4 375.0,157.5 393.1,159.7 411.2,109.6 429.3,122.0 447.5,124.2 465.6,125.0 483.7,159.9 501.8,181.0 519.9,190.0 538.1,210.9 556.2,217.1 574.3,251.6 592.4,271.5 610.5,278.4 628.7,283.8 646.8,283.5 664.9,284.2" fill="none" stroke-width="2" stroke-linejoin="round" stroke-linecap="round"/>
<circle cx="85.1" cy="103.0" r="4.25" stroke-width="0.8"/><circle cx="103.2" cy="109.7" r="4.25" stroke-width="0.8"/><circle cx="121.3" cy="146.4" r="4.25" stroke-width="0.8"/><circle cx="139.4" cy="163.0" r="4.25" stroke-width="0.8"/><circle cx="157.5" cy="175.3" r="4.25" stroke-width="0.8"/><circle cx="175.7" cy="206.3" r="4.25" stroke-width="0.8"/><circle cx="193.8" cy="206.5" r="4.25" stroke-width="0.8"/><circle cx="211.9" cy="205.3" r="4.25" stroke-width="0.8"/><circle cx="230.0" cy="193.0" r="4.25" stroke-width="0.8"/><circle cx="248.1" cy="178.2" r="4.25" stroke-width="0.8"/><circle cx="266.3" cy="175.5" r="4.25" stroke-width="0.8"/><circle cx="284.4" cy="170.8" r="4.25" stroke-width="0.8"/><circle cx="302.5" cy="165.8" r="4.25" stroke-width="0.8"/><circle cx="320.6" cy="161.3" r="4.25" stroke-width="0.8"/><circle cx="338.7" cy="156.2" r="4.25" stroke-width="0.8"/><circle cx="356.9" cy="148.4" r="4.25" stroke-width="0.8"/><circle cx="375.0" cy="157.5" r="4.25" stroke-width="0.8"/><circle cx="393.1" cy="159.7" r="4.25" stroke-width="0.8"/><circle cx="411.2" cy="109.6" r="4.25" stroke-width="0.8"/><circle cx="429.3" cy="122.0" r="4.25" stroke-width="0.8"/><circle cx="447.5" cy="124.2" r="4.25" stroke-width="0.8"/><circle cx="465.6" cy="125.0" r="4.25" stroke-width="0.8"/><circle cx="483.7" cy="159.9" r="4.25" stroke-width="0.8"/><circle cx="501.8" cy="181.0" r="4.25" stroke-width="0.8"/><circle cx="519.9" cy="190.0" r="4.25" stroke-width="0.8"/><circle cx="538.1" cy="210.9" r="4.25" stroke-width="0.8"/><circle cx="556.2" cy="217.1" r="4.25" stroke-width="0.8"/><circle cx="574.3" cy="251.6" r="4.25" stroke-width="0.8"/><circle cx="592.4" cy="271.5" r="4.25" stroke-width="0.8"/><circle cx="610.5" cy="278.4" r="4.25" stroke-width="0.8"/><circle cx="628.7" cy="283.8" r="4.25" stroke-width="0.8"/><circle cx="646.8" cy="283.5" r="4.25" stroke-width="0.8"/><circle cx="664.9" cy="284.2" r="4.25" stroke-width="0.8"/>
</g>
<g fill="#8CC168" stroke="#8CC168"><polyline points="85.1,103.0 103.2,109.8 121.3,146.8 139.4,163.7 157.5,176.1 175.7,209.7 193.8,209.8 211.9,208.6 230.0,195.9 248.1,180.2 266.3,177.4 284.4,172.7 302.5,167.7 320.6,163.4 338.7,158.4 356.9,150.6 375.0,159.7 393.1,162.1 411.2,109.6 429.3,122.3 447.5,124.6 465.6,126.0 483.7,160.5 501.8,182.0 519.9,191.5 538.1,214.5 556.2,220.7 574.3,255.0 592.4,274.1 610.5,281.7 628.7,288.6 646.8,288.2 664.9,290.4" fill="none" stroke-width="2" stroke-linejoin="round" stroke-linecap="round"/>
<circle cx="85.1" cy="103.0" r="4.25" stroke-width="0.8"/><circle cx="103.2" cy="109.8" r="4.25" stroke-width="0.8"/><circle cx="121.3" cy="146.8" r="4.25" stroke-width="0.8"/><circle cx="139.4" cy="163.7" r="4.25" stroke-width="0.8"/><circle cx="157.5" cy="176.1" r="4.25" stroke-width="0.8"/><circle cx="175.7" cy="209.7" r="4.25" stroke-width="0.8"/><circle cx="193.8" cy="209.8" r="4.25" stroke-width="0.8"/><circle cx="211.9" cy="208.6" r="4.25" stroke-width="0.8"/><circle cx="230.0" cy="195.9" r="4.25" stroke-width="0.8"/><circle cx="248.1" cy="180.2" r="4.25" stroke-width="0.8"/><circle cx="266.3" cy="177.4" r="4.25" stroke-width="0.8"/><circle cx="284.4" cy="172.7" r="4.25" stroke-width="0.8"/><circle cx="302.5" cy="167.7" r="4.25" stroke-width="0.8"/><circle cx="320.6" cy="163.4" r="4.25" stroke-width="0.8"/><circle cx="338.7" cy="158.4" r="4.25" stroke-width="0.8"/><circle cx="356.9" cy="150.6" r="4.25" stroke-width="0.8"/><circle cx="375.0" cy="159.7" r="4.25" stroke-width="0.8"/><circle cx="393.1" cy="162.1" r="4.25" stroke-width="0.8"/><circle cx="411.2" cy="109.6" r="4.25" stroke-width="0.8"/><circle cx="429.3" cy="122.3" r="4.25" stroke-width="0.8"/><circle cx="447.5" cy="124.6" r="4.25" stroke-width="0.8"/><circle cx="465.6" cy="126.0" r="4.25" stroke-width="0.8"/><circle cx="483.7" cy="160.5" r="4.25" stroke-width="0.8"/><circle cx="501.8" cy="182.0" r="4.25" stroke-width="0.8"/><circle cx="519.9" cy="191.5" r="4.25" stroke-width="0.8"/><circle cx="538.1" cy="214.5" r="4.25" stroke-width="0.8"/><circle cx="556.2" cy="220.7" r="4.25" stroke-width="0.8"/><circle cx="574.3" cy="255.0" r="4.25" stroke-width="0.8"/><circle cx="592.4" cy="274.1" r="4.25" stroke-width="0.8"/><circle cx="610.5" cy="281.7" r="4.25" stroke-width="0.8"/><circle cx="628.7" cy="288.6" r="4.25" stroke-width="0.8"/><circle cx="646.8" cy="288.2" r="4.25" stroke-width="0.8"/><circle cx="664.9" cy="290.4" r="4.25" stroke-width="0.8"/>
</g>
<g fill="#327DC2" stroke="#327DC2"><polyline points="85.1,103.0 103.2,109.7 121.3,146.0 139.4,162.5 157.5,174.7 175.7,206.8 193.8,207.0 211.9,206.0 230.0,193.9 248.1,179.2 266.3,176.5 284.4,171.8 302.5,166.8 320.6,162.4 338.7,157.4 356.9,149.6 375.0,158.7 393.1,160.9 411.2,110.1 429.3,123.0 447.5,125.5 465.6,127.0 483.7,159.3 501.8,180.0 519.9,188.0 538.1,211.5 556.2,217.7 574.3,245.5 592.4,264.2 610.5,270.8 628.7,275.6 646.8,275.1 664.9,275.8" fill="none" stroke-width="2" stroke-linejoin="round" stroke-linecap="round"/>
<circle cx="85.1" cy="103.0" r="4.25" stroke-width="0.8"/><circle cx="103.2" cy="109.7" r="4.25" stroke-width="0.8"/><circle cx="121.3" cy="146.0" r="4.25" stroke-width="0.8"/><circle cx="139.4" cy="162.5" r="4.25" stroke-width="0.8"/><circle cx="157.5" cy="174.7" r="4.25" stroke-width="0.8"/><circle cx="175.7" cy="206.8" r="4.25" stroke-width="0.8"/><circle cx="193.8" cy="207.0" r="4.25" stroke-width="0.8"/><circle cx="211.9" cy="206.0" r="4.25" stroke-width="0.8"/><circle cx="230.0" cy="193.9" r="4.25" stroke-width="0.8"/><circle cx="248.1" cy="179.2" r="4.25" stroke-width="0.8"/><circle cx="266.3" cy="176.5" r="4.25" stroke-width="0.8"/><circle cx="284.4" cy="171.8" r="4.25" stroke-width="0.8"/><circle cx="302.5" cy="166.8" r="4.25" stroke-width="0.8"/><circle cx="320.6" cy="162.4" r="4.25" stroke-width="0.8"/><circle cx="338.7" cy="157.4" r="4.25" stroke-width="0.8"/><circle cx="356.9" cy="149.6" r="4.25" stroke-width="0.8"/><circle cx="375.0" cy="158.7" r="4.25" stroke-width="0.8"/><circle cx="393.1" cy="160.9" r="4.25" stroke-width="0.8"/><circle cx="411.2" cy="110.1" r="4.25" stroke-width="0.8"/><circle cx="429.3" cy="123.0" r="4.25" stroke-width="0.8"/><circle cx="447.5" cy="125.5" r="4.25" stroke-width="0.8"/><circle cx="465.6" cy="127.0" r="4.25" stroke-width="0.8"/><circle cx="483.7" cy="159.3" r="4.25" stroke-width="0.8"/><circle cx="501.8" cy="180.0" r="4.25" stroke-width="0.8"/><circle cx="519.9" cy="188.0" r="4.25" stroke-width="0.8"/><circle cx="538.1" cy="211.5" r="4.25" stroke-width="0.8"/><circle cx="556.2" cy="217.7" r="4.25" stroke-width="0.8"/><circle cx="574.3" cy="245.5" r="4.25" stroke-width="0.8"/><circle cx="592.4" cy="264.2" r="4.25" stroke-width="0.8"/><circle cx="610.5" cy="270.8" r="4.25" stroke-width="0.8"/><circle cx="628.7" cy="275.6" r="4.25" stroke-width="0.8"/><circle cx="646.8" cy="275.1" r="4.25" stroke-width="0.8"/><circle cx="664.9" cy="275.8" r="4.25" stroke-width="0.8"/>
</g>
<g fill="#D26012" stroke="#D26012"><polyline points="85.1,103.0 103.2,109.9 121.3,147.4 139.4,164.6 157.5,177.2 175.7,212.0 193.8,213.3 211.9,214.0 230.0,205.5 248.1,195.8 266.3,193.3 284.4,190.0 302.5,190.8 320.6,188.7 338.7,185.4 356.9,179.6 375.0,188.7 393.1,191.4 411.2,110.6 429.3,129.9 447.5,132.4 465.6,133.9 483.7,163.6 501.8,187.7 519.9,197.0 538.1,216.4 556.2,222.2 574.3,249.1 592.4,268.2 610.5,274.2 628.7,278.8 646.8,278.8 664.9,279.5" fill="none" stroke-width="2" stroke-linejoin="round" stroke-linecap="round"/>
<circle cx="85.1" cy="103.0" r="4.25" stroke-width="0.8"/><circle cx="103.2" cy="109.9" r="4.25" stroke-width="0.8"/><circle cx="121.3" cy="147.4" r="4.25" stroke-width="0.8"/><circle cx="139.4" cy="164.6" r="4.25" stroke-width="0.8"/><circle cx="157.5" cy="177.2" r="4.25" stroke-width="0.8"/><circle cx="175.7" cy="212.0" r="4.25" stroke-width="0.8"/><circle cx="193.8" cy="213.3" r="4.25" stroke-width="0.8"/><circle cx="211.9" cy="214.0" r="4.25" stroke-width="0.8"/><circle cx="230.0" cy="205.5" r="4.25" stroke-width="0.8"/><circle cx="248.1" cy="195.8" r="4.25" stroke-width="0.8"/><circle cx="266.3" cy="193.3" r="4.25" stroke-width="0.8"/><circle cx="284.4" cy="190.0" r="4.25" stroke-width="0.8"/><circle cx="302.5" cy="190.8" r="4.25" stroke-width="0.8"/><circle cx="320.6" cy="188.7" r="4.25" stroke-width="0.8"/><circle cx="338.7" cy="185.4" r="4.25" stroke-width="0.8"/><circle cx="356.9" cy="179.6" r="4.25" stroke-width="0.8"/><circle cx="375.0" cy="188.7" r="4.25" stroke-width="0.8"/><circle cx="393.1" cy="191.4" r="4.25" stroke-width="0.8"/><circle cx="411.2" cy="110.6" r="4.25" stroke-width="0.8"/><circle cx="429.3" cy="129.9" r="4.25" stroke-width="0.8"/><circle cx="447.5" cy="132.4" r="4.25" stroke-width="0.8"/><circle cx="465.6" cy="133.9" r="4.25" stroke-width="0.8"/><circle cx="483.7" cy="163.6" r="4.25" stroke-width="0.8"/><circle cx="501.8" cy="187.7" r="4.25" stroke-width="0.8"/><circle cx="519.9" cy="197.0" r="4.25" stroke-width="0.8"/><circle cx="538.1" cy="216.4" r="4.25" stroke-width="0.8"/><circle cx="556.2" cy="222.2" r="4.25" stroke-width="0.8"/><circle cx="574.3" cy="249.1" r="4.25" stroke-width="0.8"/><circle cx="592.4" cy="268.2" r="4.25" stroke-width="0.8"/><circle cx="610.5" cy="274.2" r="4.25" stroke-width="0.8"/><circle cx="628.7" cy="278.8" r="4.25" stroke-width="0.8"/><circle cx="646.8" cy="278.8" r="4.25" stroke-width="0.8"/><circle cx="664.9" cy="279.5" r="4.25" stroke-width="0.8"/>
</g>
<g fill="#848484" stroke="#848484"><polyline points="85.1,103.0 103.2,109.4 121.3,143.3 139.4,158.4 157.5,169.8 175.7,198.0 193.8,198.1 211.9,196.3 230.0,183.7 248.1,169.1 266.3,166.3 284.4,161.5 302.5,156.5 320.6,151.1 338.7,146.5 356.9,141.5 375.0,149.2 393.1,150.8 411.2,110.2 429.3,124.0 447.5,126.5 465.6,128.0 483.7,155.8 501.8,181.5 519.9,190.5 538.1,202.5 556.2,208.6 574.3,237.4 592.4,255.6 610.5,261.7 628.7,266.6 646.8,266.0 664.9,267.7" fill="none" stroke-width="2" stroke-linejoin="round" stroke-linecap="round"/>
<circle cx="85.1" cy="103.0" r="4.25" stroke-width="0.8"/><circle cx="103.2" cy="109.4" r="4.25" stroke-width="0.8"/><circle cx="121.3" cy="143.3" r="4.25" stroke-width="0.8"/><circle cx="139.4" cy="158.4" r="4.25" stroke-width="0.8"/><circle cx="157.5" cy="169.8" r="4.25" stroke-width="0.8"/><circle cx="175.7" cy="198.0" r="4.25" stroke-width="0.8"/><circle cx="193.8" cy="198.1" r="4.25" stroke-width="0.8"/><circle cx="211.9" cy="196.3" r="4.25" stroke-width="0.8"/><circle cx="230.0" cy="183.7" r="4.25" stroke-width="0.8"/><circle cx="248.1" cy="169.1" r="4.25" stroke-width="0.8"/><circle cx="266.3" cy="166.3" r="4.25" stroke-width="0.8"/><circle cx="284.4" cy="161.5" r="4.25" stroke-width="0.8"/><circle cx="302.5" cy="156.5" r="4.25" stroke-width="0.8"/><circle cx="320.6" cy="151.1" r="4.25" stroke-width="0.8"/><circle cx="338.7" cy="146.5" r="4.25" stroke-width="0.8"/><circle cx="356.9" cy="141.5" r="4.25" stroke-width="0.8"/><circle cx="375.0" cy="149.2" r="4.25" stroke-width="0.8"/><circle cx="393.1" cy="150.8" r="4.25" stroke-width="0.8"/><circle cx="411.2" cy="110.2" r="4.25" stroke-width="0.8"/><circle cx="429.3" cy="124.0" r="4.25" stroke-width="0.8"/><circle cx="447.5" cy="126.5" r="4.25" stroke-width="0.8"/><circle cx="465.6" cy="128.0" r="4.25" stroke-width="0.8"/><circle cx="483.7" cy="155.8" r="4.25" stroke-width="0.8"/><circle cx="501.8" cy="181.5" r="4.25" stroke-width="0.8"/><circle cx="519.9" cy="190.5" r="4.25" stroke-width="0.8"/><circle cx="538.1" cy="202.5" r="4.25" stroke-width="0.8"/><circle cx="556.2" cy="208.6" r="4.25" stroke-width="0.8"/><circle cx="574.3" cy="237.4" r="4.25" stroke-width="0.8"/><circle cx="592.4" cy="255.6" r="4.25" stroke-width="0.8"/><circle cx="610.5" cy="261.7" r="4.25" stroke-width="0.8"/><circle cx="628.7" cy="266.6" r="4.25" stroke-width="0.8"/><circle cx="646.8" cy="266.0" r="4.25" stroke-width="0.8"/><circle cx="664.9" cy="267.7" r="4.25" stroke-width="0.8"/>
</g>
<g fill="#CC9A00" stroke="#CC9A00"><polyline points="85.1,103.0 103.2,109.5 121.3,145.0 139.4,161.0 157.5,172.9 175.7,203.1 193.8,203.1 211.9,200.7 230.0,188.0 248.1,173.3 266.3,170.5 284.4,165.3 302.5,159.5 320.6,154.5 338.7,150.4 356.9,139.0 375.0,148.8 393.1,150.5 411.2,110.7 429.3,129.1 447.5,131.6 465.6,133.1 483.7,160.6 501.8,184.8 519.9,194.3 538.1,207.5 556.2,214.2 574.3,241.8 592.4,260.0 610.5,266.8 628.7,271.3 646.8,271.5 664.9,271.6" fill="none" stroke-width="2" stroke-linejoin="round" stroke-linecap="round"/>
<circle cx="85.1" cy="103.0" r="4.25" stroke-width="0.8"/><circle cx="103.2" cy="109.5" r="4.25" stroke-width="0.8"/><circle cx="121.3" cy="145.0" r="4.25" stroke-width="0.8"/><circle cx="139.4" cy="161.0" r="4.25" stroke-width="0.8"/><circle cx="157.5" cy="172.9" r="4.25" stroke-width="0.8"/><circle cx="175.7" cy="203.1" r="4.25" stroke-width="0.8"/><circle cx="193.8" cy="203.1" r="4.25" stroke-width="0.8"/><circle cx="211.9" cy="200.7" r="4.25" stroke-width="0.8"/><circle cx="230.0" cy="188.0" r="4.25" stroke-width="0.8"/><circle cx="248.1" cy="173.3" r="4.25" stroke-width="0.8"/><circle cx="266.3" cy="170.5" r="4.25" stroke-width="0.8"/><circle cx="284.4" cy="165.3" r="4.25" stroke-width="0.8"/><circle cx="302.5" cy="159.5" r="4.25" stroke-width="0.8"/><circle cx="320.6" cy="154.5" r="4.25" stroke-width="0.8"/><circle cx="338.7" cy="150.4" r="4.25" stroke-width="0.8"/><circle cx="356.9" cy="139.0" r="4.25" stroke-width="0.8"/><circle cx="375.0" cy="148.8" r="4.25" stroke-width="0.8"/><circle cx="393.1" cy="150.5" r="4.25" stroke-width="0.8"/><circle cx="411.2" cy="110.7" r="4.25" stroke-width="0.8"/><circle cx="429.3" cy="129.1" r="4.25" stroke-width="0.8"/><circle cx="447.5" cy="131.6" r="4.25" stroke-width="0.8"/><circle cx="465.6" cy="133.1" r="4.25" stroke-width="0.8"/><circle cx="483.7" cy="160.6" r="4.25" stroke-width="0.8"/><circle cx="501.8" cy="184.8" r="4.25" stroke-width="0.8"/><circle cx="519.9" cy="194.3" r="4.25" stroke-width="0.8"/><circle cx="538.1" cy="207.5" r="4.25" stroke-width="0.8"/><circle cx="556.2" cy="214.2" r="4.25" stroke-width="0.8"/><circle cx="574.3" cy="241.8" r="4.25" stroke-width="0.8"/><circle cx="592.4" cy="260.0" r="4.25" stroke-width="0.8"/><circle cx="610.5" cy="266.8" r="4.25" stroke-width="0.8"/><circle cx="628.7" cy="271.3" r="4.25" stroke-width="0.8"/><circle cx="646.8" cy="271.5" r="4.25" stroke-width="0.8"/><circle cx="664.9" cy="271.6" r="4.25" stroke-width="0.8"/>
</g>
<g fill="#335AA1" stroke="#335AA1"><polyline points="85.1,103.0 103.2,109.1 121.3,140.9 139.4,154.5 157.5,164.8 175.7,191.8 193.8,192.0 211.9,190.9 230.0,178.5 248.1,164.0 266.3,161.2 284.4,156.8 302.5,152.8 320.6,147.0 338.7,140.6 356.9,133.5 375.0,141.8 393.1,144.0 411.2,110.9 429.3,126.9 447.5,129.4 465.6,131.0 483.7,154.1 501.8,177.6 519.9,186.3 538.1,196.6 556.2,201.7 574.3,226.2 592.4,241.3 610.5,247.1 628.7,249.8 646.8,248.6 664.9,249.4" fill="none" stroke-width="2" stroke-linejoin="round" stroke-linecap="round"/>
<circle cx="85.1" cy="103.0" r="4.25" stroke-width="0.8"/><circle cx="103.2" cy="109.1" r="4.25" stroke-width="0.8"/><circle cx="121.3" cy="140.9" r="4.25" stroke-width="0.8"/><circle cx="139.4" cy="154.5" r="4.25" stroke-width="0.8"/><circle cx="157.5" cy="164.8" r="4.25" stroke-width="0.8"/><circle cx="175.7" cy="191.8" r="4.25" stroke-width="0.8"/><circle cx="193.8" cy="192.0" r="4.25" stroke-width="0.8"/><circle cx="211.9" cy="190.9" r="4.25" stroke-width="0.8"/><circle cx="230.0" cy="178.5" r="4.25" stroke-width="0.8"/><circle cx="248.1" cy="164.0" r="4.25" stroke-width="0.8"/><circle cx="266.3" cy="161.2" r="4.25" stroke-width="0.8"/><circle cx="284.4" cy="156.8" r="4.25" stroke-width="0.8"/><circle cx="302.5" cy="152.8" r="4.25" stroke-width="0.8"/><circle cx="320.6" cy="147.0" r="4.25" stroke-width="0.8"/><circle cx="338.7" cy="140.6" r="4.25" stroke-width="0.8"/><circle cx="356.9" cy="133.5" r="4.25" stroke-width="0.8"/><circle cx="375.0" cy="141.8" r="4.25" stroke-width="0.8"/><circle cx="393.1" cy="144.0" r="4.25" stroke-width="0.8"/><circle cx="411.2" cy="110.9" r="4.25" stroke-width="0.8"/><circle cx="429.3" cy="126.9" r="4.25" stroke-width="0.8"/><circle cx="447.5" cy="129.4" r="4.25" stroke-width="0.8"/><circle cx="465.6" cy="131.0" r="4.25" stroke-width="0.8"/><circle cx="483.7" cy="154.1" r="4.25" stroke-width="0.8"/><circle cx="501.8" cy="177.6" r="4.25" stroke-width="0.8"/><circle cx="519.9" cy="186.3" r="4.25" stroke-width="0.8"/><circle cx="538.1" cy="196.6" r="4.25" stroke-width="0.8"/><circle cx="556.2" cy="201.7" r="4.25" stroke-width="0.8"/><circle cx="574.3" cy="226.2" r="4.25" stroke-width="0.8"/><circle cx="592.4" cy="241.3" r="4.25" stroke-width="0.8"/><circle cx="610.5" cy="247.1" r="4.25" stroke-width="0.8"/><circle cx="628.7" cy="249.8" r="4.25" stroke-width="0.8"/><circle cx="646.8" cy="248.6" r="4.25" stroke-width="0.8"/><circle cx="664.9" cy="249.4" r="4.25" stroke-width="0.8"/>
</g>
<g fill="#5A8A39" stroke="#5A8A39"><polyline points="85.1,103.0 103.2,108.4 121.3,133.8 139.4,143.9 157.5,152.1 175.7,172.2 193.8,172.2 211.9,171.5 230.0,161.9 248.1,150.3 266.3,147.9 284.4,144.3 302.5,147.3 320.6,147.2 338.7,145.4 356.9,142.5 375.0,149.5 393.1,151.0 411.2,109.6 429.3,122.7 447.5,125.3 465.6,127.1 483.7,145.5 501.8,164.9 519.9,171.9 538.1,174.8 556.2,178.9 574.3,195.2 592.4,206.2 610.5,209.3 628.7,207.9 646.8,206.0 664.9,207.4" fill="none" stroke-width="2" stroke-linejoin="round" stroke-linecap="round"/>
<circle cx="85.1" cy="103.0" r="4.25" stroke-width="0.8"/><circle cx="103.2" cy="108.4" r="4.25" stroke-width="0.8"/><circle cx="121.3" cy="133.8" r="4.25" stroke-width="0.8"/><circle cx="139.4" cy="143.9" r="4.25" stroke-width="0.8"/><circle cx="157.5" cy="152.1" r="4.25" stroke-width="0.8"/><circle cx="175.7" cy="172.2" r="4.25" stroke-width="0.8"/><circle cx="193.8" cy="172.2" r="4.25" stroke-width="0.8"/><circle cx="211.9" cy="171.5" r="4.25" stroke-width="0.8"/><circle cx="230.0" cy="161.9" r="4.25" stroke-width="0.8"/><circle cx="248.1" cy="150.3" r="4.25" stroke-width="0.8"/><circle cx="266.3" cy="147.9" r="4.25" stroke-width="0.8"/><circle cx="284.4" cy="144.3" r="4.25" stroke-width="0.8"/><circle cx="302.5" cy="147.3" r="4.25" stroke-width="0.8"/><circle cx="320.6" cy="147.2" r="4.25" stroke-width="0.8"/><circle cx="338.7" cy="145.4" r="4.25" stroke-width="0.8"/><circle cx="356.9" cy="142.5" r="4.25" stroke-width="0.8"/><circle cx="375.0" cy="149.5" r="4.25" stroke-width="0.8"/><circle cx="393.1" cy="151.0" r="4.25" stroke-width="0.8"/><circle cx="411.2" cy="109.6" r="4.25" stroke-width="0.8"/><circle cx="429.3" cy="122.7" r="4.25" stroke-width="0.8"/><circle cx="447.5" cy="125.3" r="4.25" stroke-width="0.8"/><circle cx="465.6" cy="127.1" r="4.25" stroke-width="0.8"/><circle cx="483.7" cy="145.5" r="4.25" stroke-width="0.8"/><circle cx="501.8" cy="164.9" r="4.25" stroke-width="0.8"/><circle cx="519.9" cy="171.9" r="4.25" stroke-width="0.8"/><circle cx="538.1" cy="174.8" r="4.25" stroke-width="0.8"/><circle cx="556.2" cy="178.9" r="4.25" stroke-width="0.8"/><circle cx="574.3" cy="195.2" r="4.25" stroke-width="0.8"/><circle cx="592.4" cy="206.2" r="4.25" stroke-width="0.8"/><circle cx="610.5" cy="209.3" r="4.25" stroke-width="0.8"/><circle cx="628.7" cy="207.9" r="4.25" stroke-width="0.8"/><circle cx="646.8" cy="206.0" r="4.25" stroke-width="0.8"/><circle cx="664.9" cy="207.4" r="4.25" stroke-width="0.8"/>
</g>
</svg>
</body></html>
